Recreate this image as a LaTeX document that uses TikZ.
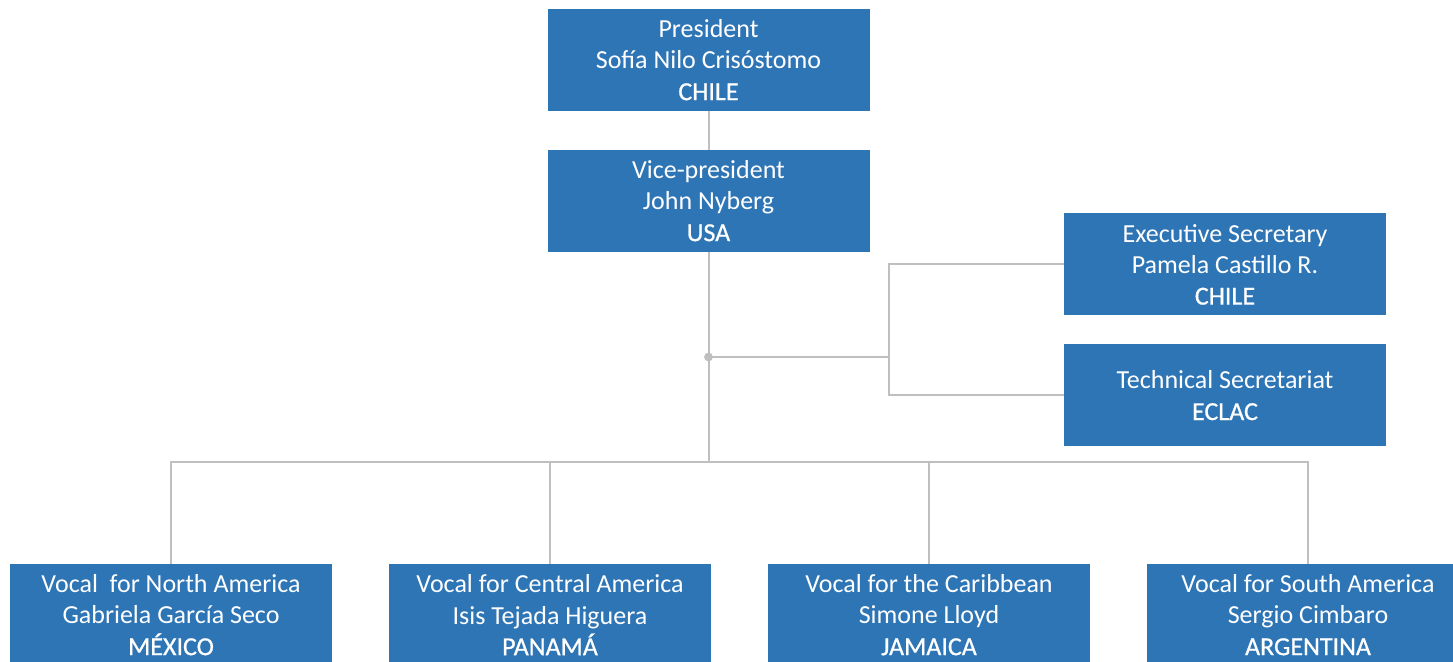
\documentclass[tikz,border=0pt]{standalone}
\usepackage{fontspec}
\setmainfont{Carlito}
\newfontfamily\ctryfont[FakeBold=0.7]{Carlito}
\newcommand{\ctry}[1]{{\ctryfont #1}}
\definecolor{boxblue}{HTML}{2E75B6}
\definecolor{linegray}{HTML}{BFBFBF}
\begin{document}
\begin{tikzpicture}[x=0.5pt,y=-0.5pt,
  box/.style={fill=boxblue, text=white, minimum width=161pt, minimum height=51pt,
    inner sep=0pt, align=center, font=\fontsize{13}{15.6}\selectfont},
  conn/.style={draw=linegray, line width=1pt}]
\useasboundingbox (0,0) rectangle (1453,662);
\node[box] (pres) at (708.5,60) {President\\Sofía Nilo Crisóstomo\\\ctry{CHILE}};
\node[box] (vp) at (708.5,201) {Vice-president\\John Nyberg\\\ctry{USA}};
\node[box] (exec) at (1225,264.5) {Executive Secretary\\Pamela Castillo R.\\\ctry{CHILE}};
\node[box] (tech) at (1225,395.5) {Technical Secretariat\\\ctry{ECLAC}};
\node[box] (na) at (171,615) {Vocal\ \ for North America\\Gabriela García Seco\\\ctry{MÉXICO}};
\node[box] (ca) at (550,615) {Vocal for Central America\\Isis Tejada Higuera\\\ctry{PANAMÁ}};
\node[box] (cb) at (929,615) {Vocal for the Caribbean\\Simone Lloyd\\\ctry{JAMAICA}};
\node[box] (sa) at (1308,615) {Vocal for South America\\Sergio Cimbaro\\\ctry{ARGENTINA}};
\coordinate (dot) at (708.5,357);
\coordinate (split) at (889,357);
\coordinate (bus) at (708.5,462);
\draw[conn] (pres) -- (vp);
\draw[conn] (vp) -- (bus);
\draw[conn] (dot) -- (split);
\draw[conn] (exec.west) -| (split) |- (tech.west);
\draw[conn] (na.north) -- (na.north |- bus) -- (sa.north |- bus) -- (sa.north);
\draw[conn] (ca.north) -- (ca.north |- bus);
\draw[conn] (cb.north) -- (cb.north |- bus);
\fill[linegray] (dot) circle[radius=2.2pt];
\end{tikzpicture}
\end{document}
